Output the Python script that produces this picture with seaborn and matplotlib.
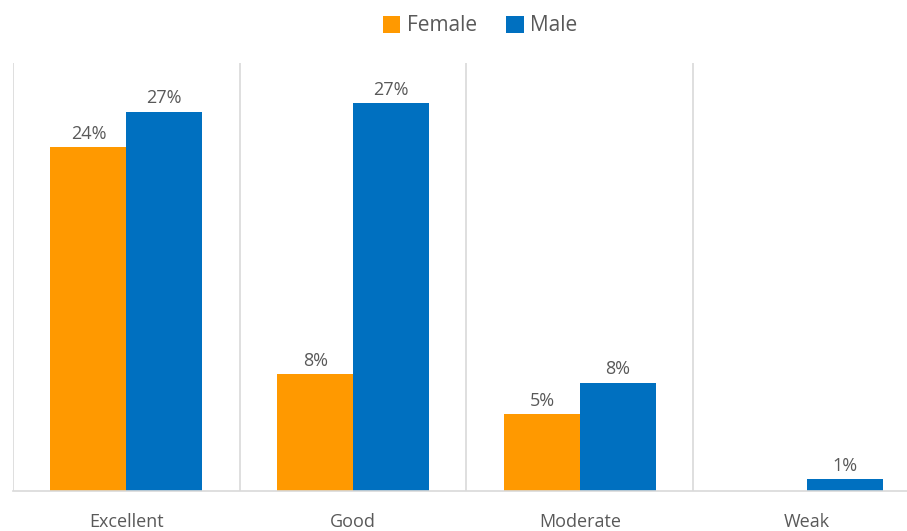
import matplotlib
matplotlib.use("Agg")
import matplotlib.pyplot as plt
import seaborn as sns
import pandas as pd

categories = ["Excellent", "Good", "Moderate", "Weak"]
female = [24.1, 8.2, 5.4, 0.0]
male = [26.6, 27.2, 7.6, 0.84]
series_names = ["Female", "Male"]
colors = ["#FF9900", "#0070C0"]

df = pd.DataFrame({
    "category": categories * 2,
    "value": female + male,
    "gender": [series_names[0]] * len(categories) + [series_names[1]] * len(categories),
})

sns.set_theme(style="white")
plt.rcParams["font.family"] = ["Open Sans", "DejaVu Sans"]

fig = plt.figure(figsize=(9.07, 5.31), dpi=100)
ax = fig.add_axes([13 / 907, 40 / 531, 907 / 907, 428 / 531])

sns.barplot(data=df, x="category", y="value", hue="gender", order=categories,
            hue_order=series_names, palette=colors, width=0.67, ax=ax,
            saturation=1, legend=True, linewidth=0, edgecolor="none")

ax.set_xlim(-0.5, 3.5)
ax.set_ylim(0, 30)
ax.set_xlabel("")
ax.set_ylabel("")
ax.set_yticks([])
for s in ["top", "right", "left"]:
    ax.spines[s].set_visible(False)
ax.spines["bottom"].set_color("#D9D9D9")
ax.spines["bottom"].set_linewidth(1.2)

for xb in [-0.5, 0.5, 1.5, 2.5, 3.5]:
    ax.axvline(xb, color="#D9D9D9", lw=1.2, zorder=0)

ax.tick_params(axis="x", length=0, pad=16, labelsize=13, labelcolor="#595959")

for cont in ax.containers:
    for bar in cont:
        h = bar.get_height()
        if h and h > 0:
            ax.annotate(f"{round(h)}%", (bar.get_x() + bar.get_width() / 2, h),
                        xytext=(0, 3), textcoords="offset points",
                        ha="center", va="bottom", fontsize=13, color="#595959")

leg = ax.legend(loc="upper center", bbox_to_anchor=(480 / 907 - 13 / 907, 1.0 + 0.155),
                ncol=2, frameon=False, fontsize=15, handlelength=0.85, handleheight=0.85,
                handletextpad=0.3, columnspacing=1.4)
for t in leg.get_texts():
    t.set_color("#595959")

fig.savefig("out.png", dpi=100)
